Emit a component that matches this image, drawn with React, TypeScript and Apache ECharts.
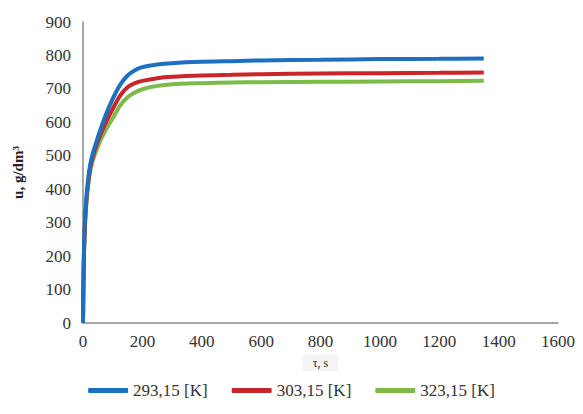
import React, { useEffect, useRef } from "react";
import * as echarts from "echarts";

// Time, s
const timeS = [0, 2, 5, 10, 20, 30, 50, 75, 100, 125, 150, 175, 200, 250, 300, 400, 500, 600, 800, 1000, 1200, 1350];
// Uptake at three temperatures, g/dm³
const u29315 = [0, 160, 270, 360, 450, 497, 555, 618, 670, 712, 740, 756, 765, 773, 777, 781, 783, 785, 787, 789, 790, 791];
const u30315 = [0, 150, 260, 350, 440, 487, 543, 596, 640, 680, 705, 717, 724, 732, 736, 740, 742, 744, 746, 747, 748, 749];
const u32315 = [0, 140, 250, 340, 430, 477, 528, 575, 612, 650, 675, 689, 699, 709, 714, 717, 719, 720, 721, 722, 723, 724];

const seriesNames = ["293,15 [K]", "303,15 [K]", "323,15 [K]"];
const seriesColors = ["#1f6fc1", "#c8262b", "#7cba4a"];

const font = "Liberation Serif";

export default function App() {
  const ref = useRef<HTMLDivElement>(null);
  useEffect(() => {
    if (!ref.current) return;
    const chart = echarts.init(ref.current, null, { renderer: "svg" });
    const sets = [u29315, u30315, u32315];
    chart.setOption({
      animation: false,
      backgroundColor: "#ffffff",
      textStyle: { fontFamily: font },
      grid: { left: 83, right: 25, top: 22, bottom: 91, containLabel: false },
      legend: {
        bottom: 10,
        left: "center",
        icon: "roundRect",
        itemWidth: 40,
        itemHeight: 5,
        itemGap: 24,
        textStyle: { fontFamily: font, fontSize: 17, color: "#333" },
        data: seriesNames,
      },
      xAxis: {
        type: "value",
        min: 0,
        max: 1600,
        interval: 200,
        name: "τ, s",
        nameLocation: "middle",
        nameGap: 32,
        nameTextStyle: { fontFamily: font, fontSize: 12, color: "#222", backgroundColor: "#f4f4f4", padding: [2, 10] },
        axisLine: { lineStyle: { color: "#8a8a8a", width: 1.5 } },
        axisTick: { show: false },
        splitLine: { show: false },
        axisLabel: { fontFamily: font, fontSize: 17, color: "#333", margin: 10, formatter: (v: number) => String(v) },
      },
      yAxis: {
        type: "value",
        min: 0,
        max: 900,
        interval: 100,
        name: "u, g/dm³",
        nameLocation: "middle",
        nameRotate: 90,
        nameGap: 58,
        nameTextStyle: { fontFamily: font, fontSize: 15, fontWeight: "bold", color: "#222" },
        axisLine: { show: true, lineStyle: { color: "#8a8a8a", width: 1.5 } },
        axisTick: { show: false },
        splitLine: { show: false },
        axisLabel: { fontFamily: font, fontSize: 17, color: "#333", margin: 12, formatter: (v: number) => String(v) },
      },
      series: sets.map((vals, i) => ({
        name: seriesNames[i],
        type: "line",
        smooth: 0.3,
        showSymbol: false,
        symbol: "none",
        lineStyle: { color: seriesColors[i], width: 4 },
        itemStyle: { color: seriesColors[i] },
        data: timeS.map((t, k) => [t, vals[k]]),
        z: 3 - i,
      })),
    });
    return () => chart.dispose();
  }, []);
  return <div ref={ref} style={{ width: 583, height: 414, position: "absolute", left: 0, top: 0 }} />;
}
